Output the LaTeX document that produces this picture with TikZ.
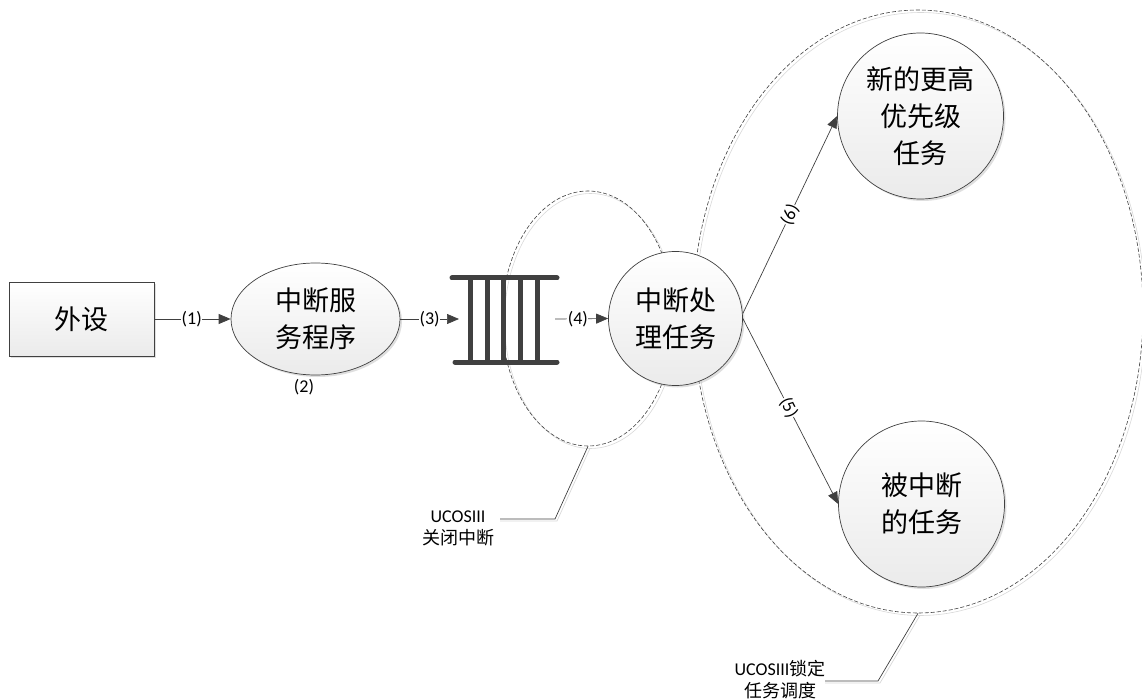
\documentclass[tikz,border=0pt]{standalone}
\usepackage{fontspec}
\setmainfont{Carlito}
\newfontfamily\cjk{Noto Sans CJK SC}
\usetikzlibrary{arrows.meta,shapes.geometric,shadows}
\definecolor{ln}{HTML}{404040}
\definecolor{shd}{HTML}{D8D8D8}
\begin{document}
\begin{tikzpicture}[x=1pt,y=-1pt,
  lbl/.style={font=\fontsize{18}{18}\selectfont, fill=white, inner sep=0.5pt, text=black},
  conn/.style={draw=ln, line width=0.7pt, -{Triangle[length=12pt,width=10pt]}},
  roundbox/.style={circle, draw=ln, line width=0.7pt, top color=white, bottom color=gray!16,
     drop shadow={shadow xshift=2pt,shadow yshift=-2pt,fill=gray!50,opacity=0.5},
     align=center, font=\cjk\fontsize{27}{37}\selectfont, inner sep=0pt},
  devbox/.style={rectangle, draw=ln, line width=0.7pt, top color=white, bottom color=gray!16,
     drop shadow={shadow xshift=2pt,shadow yshift=-2pt,fill=gray!50,opacity=0.5},
     font=\cjk\fontsize{27}{37}\selectfont, inner sep=0pt},
  grp/.style={ellipse, draw=ln, dashed, dash pattern=on 4pt off 2pt, line width=0.6pt, inner sep=0pt},
  note/.style={align=center, font=\fontsize{18}{22}\selectfont, inner sep=0pt},
  lead/.style={draw=ln, line width=0.7pt},
  leadsh/.style={draw=shd, line width=0.7pt},
  bar/.style={draw=ln, line width=5pt}
]
\useasboundingbox (0,0) rectangle (1142,700);

% group ellipses with light shadow
\draw[shd, line width=0.6pt] (590.5,321) ellipse [x radius=86pt, y radius=127.5pt];
\draw[shd, line width=0.6pt] (920.5,314) ellipse [x radius=225pt, y radius=301.5pt];

% queue
\draw[bar, line cap=round] (452,278) -- (557,278);
\draw[bar, line cap=round] (455,362) -- (557,362);
\foreach \xx in {470,487,503,520,537} { \draw[bar] (\xx,278) -- (\xx,362); }
\coordinate (qin) at (459,319);
\coordinate (qout) at (555,319);

\node[grp, minimum width=172pt, minimum height=255pt] (g1) at (588,318.5) {};
\node[grp, minimum width=450pt, minimum height=603pt] (g2) at (918,311.5) {};

% nodes
\node[devbox, minimum width=145pt, minimum height=74pt] (dev) at (81.5,319) {外设};
\node[roundbox, ellipse, minimum width=169pt, minimum height=112pt] (isr) at (315.5,319) {中断服\\务程序};
\node[roundbox, minimum size=134pt] (task) at (675.5,318.5) {中断处\\理任务};
\node[roundbox, minimum size=166pt] (high) at (920.5,116) {新的更高\\优先级\\任务};
\node[roundbox, minimum size=166pt] (low) at (921.5,504) {被中断\\的任务};

\node[font=\fontsize{18}{18}\selectfont] (l2) at (304,387) {(2)};

% connectors
\draw[conn] (dev.east) -- node[lbl, pos=0.49] {(1)} (isr.west);
\draw[conn] (isr.east) -- node[lbl, pos=0.5] {(3)} (qin);
\draw[conn] (qout) -- node[lbl, pos=0.43] {(4)} (task.west);
\draw[conn] (task.east) ++(0,-5) coordinate (t6) (t6) -- node[lbl, sloped, pos=0.5] {(6)} (high.west);
\draw[conn] (task.east) -- node[lbl, sloped, pos=0.48] {(5)} (low.west);

% annotations
\coordinate (k1) at (555,519);
\coordinate (e1) at (500,519);
\coordinate (k2) at (878,681);
\coordinate (e2) at (825,681);
\draw[leadsh] ([shift={(2,2)}]g1.south) -- ([shift={(2,2)}]k1) -- ([shift={(0,2)}]e1);
\draw[leadsh] ([shift={(2,2)}]g2.south) -- ([shift={(2,2)}]k2) -- ([shift={(0,2)}]e2);
\draw[lead] (g1.south) -- (k1) -- (e1);
\draw[lead] (g2.south) -- (k2) -- (e2);
\node[note] (n1) at (458,528) {UCOSIII\\{\cjk 关闭中断}};
\node[note] (n2) at (780,680) {UCOSIII{\cjk 锁定}\\{\cjk 任务调度}};
\end{tikzpicture}
\end{document}
